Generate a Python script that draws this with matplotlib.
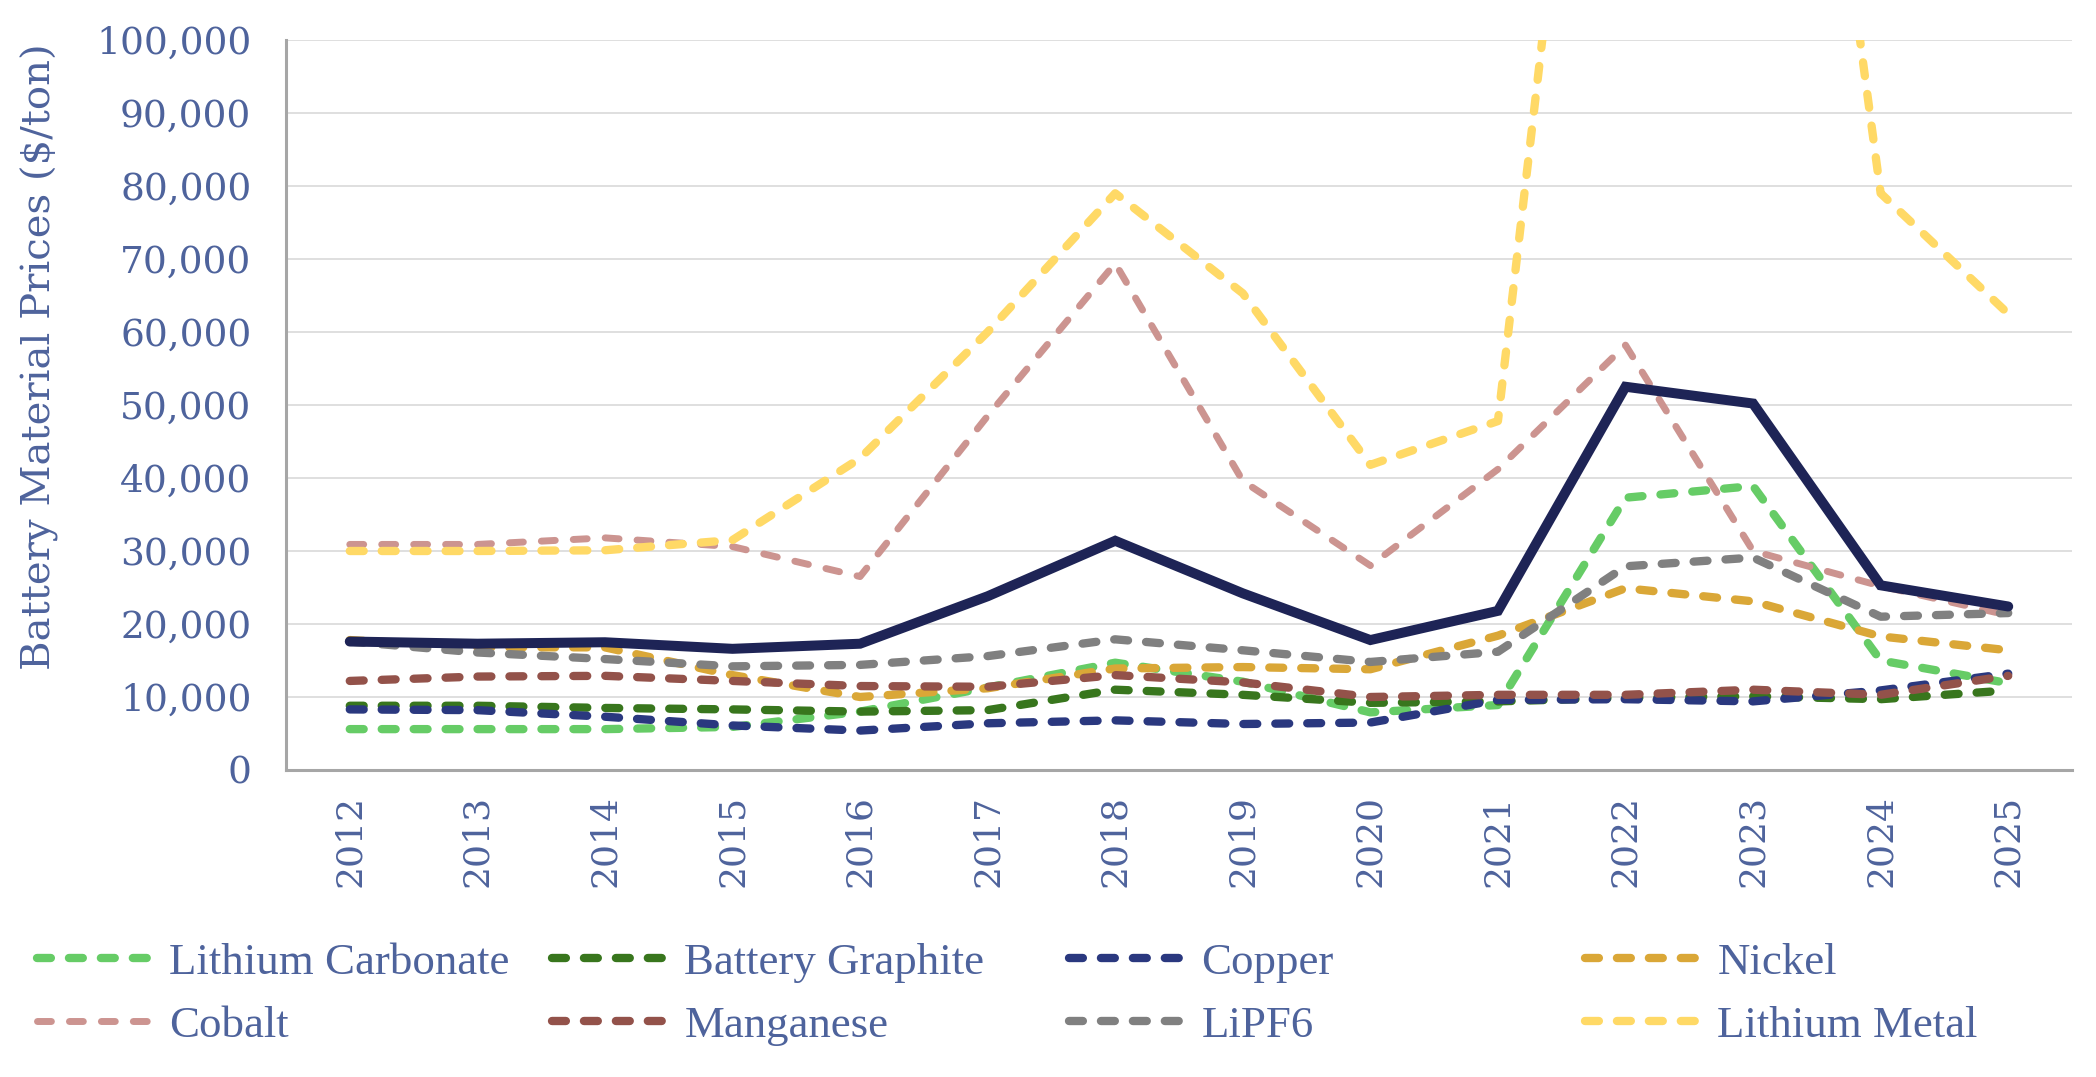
import matplotlib
matplotlib.use('Agg')
import matplotlib.pyplot as plt
from matplotlib.ticker import FuncFormatter
import numpy as np

plt.rcParams['lines.scale_dashes'] = False

years = [str(y) for y in range(2012, 2026)]
lithium_carbonate = [5600, 5600, 5600, 5900, 8000, 11300, 14700, 12100, 7900, 8900, 37300, 38900, 15000, 11900]
battery_graphite = [8800, 8800, 8500, 8300, 8000, 8200, 11000, 10300, 9200, 9400, 9900, 10100, 9700, 10900]
copper = [8300, 8200, 7300, 6100, 5400, 6400, 6800, 6300, 6500, 9600, 9700, 9400, 10900, 13200]
nickel = [17800, 16800, 16800, 13000, 10000, 11200, 13900, 14100, 13800, 18400, 24900, 23100, 18300, 16400]
cobalt = [30900, 30900, 31800, 30600, 26500, 48500, 69400, 39600, 28000, 41200, 58200, 30000, 25200, 21200]
manganese = [12200, 12800, 12900, 12200, 11500, 11400, 13000, 12000, 10000, 10300, 10300, 11000, 10300, 12900]
lipf6 = [17600, 16100, 15200, 14200, 14400, 15600, 17900, 16400, 14800, 16200, 27900, 29100, 21000, 21500]
lithium_metal = [30000, 30000, 30100, 31500, 42700, 60000, 79000, 65300, 41800, 47800, 198000, 209000, 79000, 62500]
weighted_average = [17600, 17300, 17500, 16600, 17300, 23800, 31400, 24200, 17800, 21800, 52500, 50200, 25300, 22400]

series_names = ["Lithium Carbonate", "Battery Graphite", "Copper", "Nickel",
                "Cobalt", "Manganese", "LiPF6", "Lithium Metal"]
series_values = [lithium_carbonate, battery_graphite, copper, nickel,
                 cobalt, manganese, lipf6, lithium_metal]
series_colors = ["#66CC66", "#38761D", "#2A387F", "#DAA737",
                 "#CC9490", "#93524A", "#808080", "#FFD966"]
series_widths = [6.0, 6.0, 6.0, 6.0, 5.0, 6.0, 6.0, 6.0]

text_color = "#4E639C"
W, H = 2096, 1077
fig = plt.figure(figsize=(W / 100, H / 100), dpi=100)
ax_left, ax_right, ax_bottom, ax_top = 286, 2072, 770, 40
ax = fig.add_axes([ax_left / W, 1 - ax_bottom / H, (ax_right - ax_left) / W, (ax_bottom - ax_top) / H])

x = np.arange(len(years))
dash = (0, (10, 13))
handles = []
for name, vals, col, lw in zip(series_names, series_values, series_colors, series_widths):
    ln, = ax.plot(x, vals, color=col, lw=lw, linestyle=dash,
                  dash_capstyle='round', solid_capstyle='round', label=name)
    handles.append(ln)
ax.plot(x, weighted_average, color="#1E2456", lw=7.2, solid_capstyle='round',
        solid_joinstyle='miter')

ax.set_xlim(-0.5, len(years) - 0.5)
ax.set_ylim(0, 100000)
ax.set_yticks(np.arange(0, 100001, 10000))
ax.yaxis.set_major_formatter(FuncFormatter(lambda v, p: f"{int(v):,}"))
ax.set_xticks(x)
ax.set_xticklabels(years, rotation=90)

for lab in ax.get_yticklabels():
    lab.set_fontfamily('DejaVu Serif')
    lab.set_fontsize(27)
    lab.set_color(text_color)
for lab in ax.get_xticklabels():
    lab.set_fontfamily('DejaVu Serif')
    lab.set_fontsize(26)
    lab.set_color(text_color)
ax.tick_params(axis='y', length=0, pad=25)
ax.tick_params(axis='x', length=0, pad=18)

ax.grid(axis='y', color='#D9D9D9', lw=1.2)
ax.set_axisbelow(True)
for s in ['top', 'right']:
    ax.spines[s].set_visible(False)
for s in ['left', 'bottom']:
    ax.spines[s].set_color('#A6A6A6')
    ax.spines[s].set_linewidth(2.2)
    ax.spines[s].set_zorder(5)

fig.text(40 / W, 1 - 357 / H, "Battery Material Prices ($/ton)", family='DejaVu Serif',
         fontsize=29, color=text_color, rotation=90, ha='center', va='center')

col_x = [37, 552, 1069, 1585]
leg_font = dict(family='Liberation Serif', size=32.3)
for c in range(4):
    hs = [handles[c], handles[c + 4]]
    fig.legend(handles=hs, labels=[h.get_label() for h in hs],
               loc='center left', bbox_to_anchor=(col_x[c] / W, 1 - 994 / H),
               frameon=False, handlelength=2.75, handletextpad=0.2,
               borderpad=0, borderaxespad=0, labelspacing=0.5,
               prop=leg_font, labelcolor=text_color)

fig.savefig("out.png", dpi=100)
